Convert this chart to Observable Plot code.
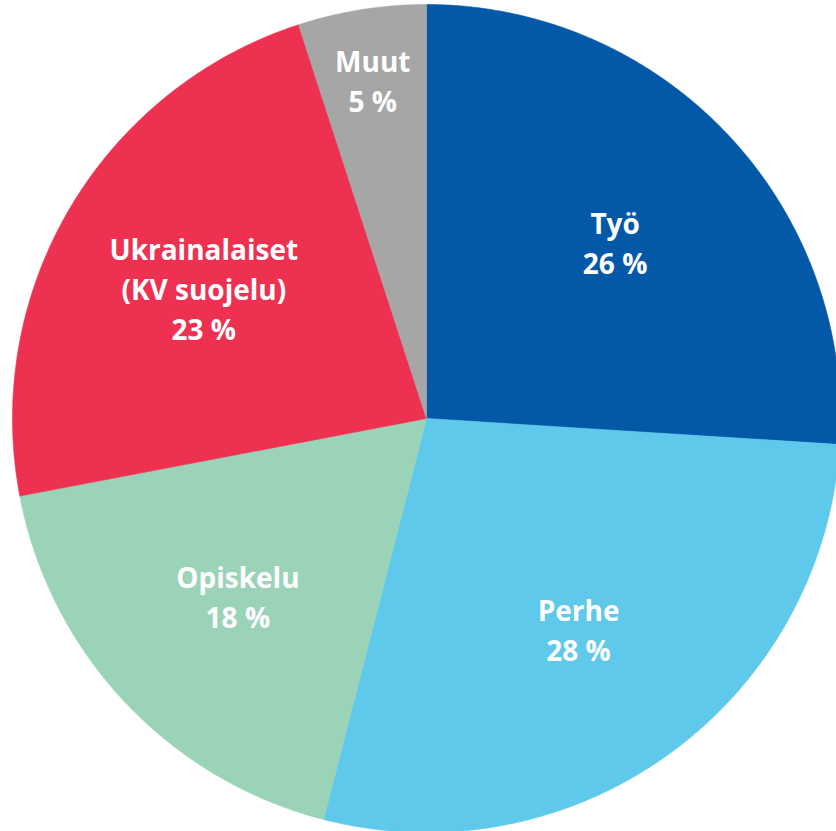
<!DOCTYPE html>
<html>
<head>
<meta charset="utf-8">
<script src="https://cdn.jsdelivr.net/npm/d3@7"></script>
<script src="https://cdn.jsdelivr.net/npm/@observablehq/plot@0.6"></script>
<style>
  html, body { margin: 0; padding: 0; background: #fff; overflow: hidden; }
</style>
</head>
<body>
<div id="chart"></div>
<script>
// Data
const categories = ["Työ", "Perhe", "Opiskelu", "Ukrainalaiset\n(KV suojelu)", "Muut"];
const shares = [26, 28, 18, 23, 5];
const colors = ["#0359A8", "#5EC9EA", "#9BD3B8", "#EE3150", "#A6A6A6"];

const total = d3.sum(shares);
const pie = d3.pie().sort(null).value(d => d.value)(
  categories.map((name, i) => ({ name, value: shares[i] }))
);

// Build slice polygons in unit coordinates (angle 0 at top, clockwise)
const slicePoints = [];
for (const s of pie) {
  const name = s.data.name;
  slicePoints.push({ name, x: 0, y: 0 });
  const n = Math.max(2, Math.ceil((s.endAngle - s.startAngle) / (Math.PI / 360)));
  for (let k = 0; k <= n; k++) {
    const a = s.startAngle + (s.endAngle - s.startAngle) * k / n;
    slicePoints.push({ name, x: Math.sin(a), y: Math.cos(a) });
  }
  slicePoints.push({ name, x: 0, y: 0 });
}

// Label positions at slice mid-angle
const labels = pie.map(s => {
  const a = (s.startAngle + s.endAngle) / 2;
  const r = s.data.value / total < 0.1 ? 0.83 : 0.625;
  return { name: s.data.name, text: `${s.data.name}\n${s.data.value} %`, x: r * Math.sin(a), y: r * Math.cos(a) };
});

const chart = Plot.plot({
  width: 836,
  height: 831,
  margin: 0,
  x: { domain: [-1, 1], range: [12, 840], axis: null },
  y: { domain: [-1, 1], range: [832, 4], axis: null },
  color: { domain: categories, range: colors },
  style: { background: "#fff" },
  marks: [
    Plot.line(slicePoints, { x: "x", y: "y", z: "name", fill: "name", stroke: "name", strokeWidth: 0.6, curve: "linear", clip: true }),
    Plot.text(labels, {
      x: "x", y: "y", text: "text",
      fill: "white", fontSize: 28, fontWeight: "bold",
      fontFamily: "'Open Sans', Roboto, sans-serif",
      lineHeight: 1.43, lineAnchor: "middle", textAnchor: "middle"
    })
  ]
});
document.getElementById("chart").appendChild(chart);
</script>
</body>
</html>
